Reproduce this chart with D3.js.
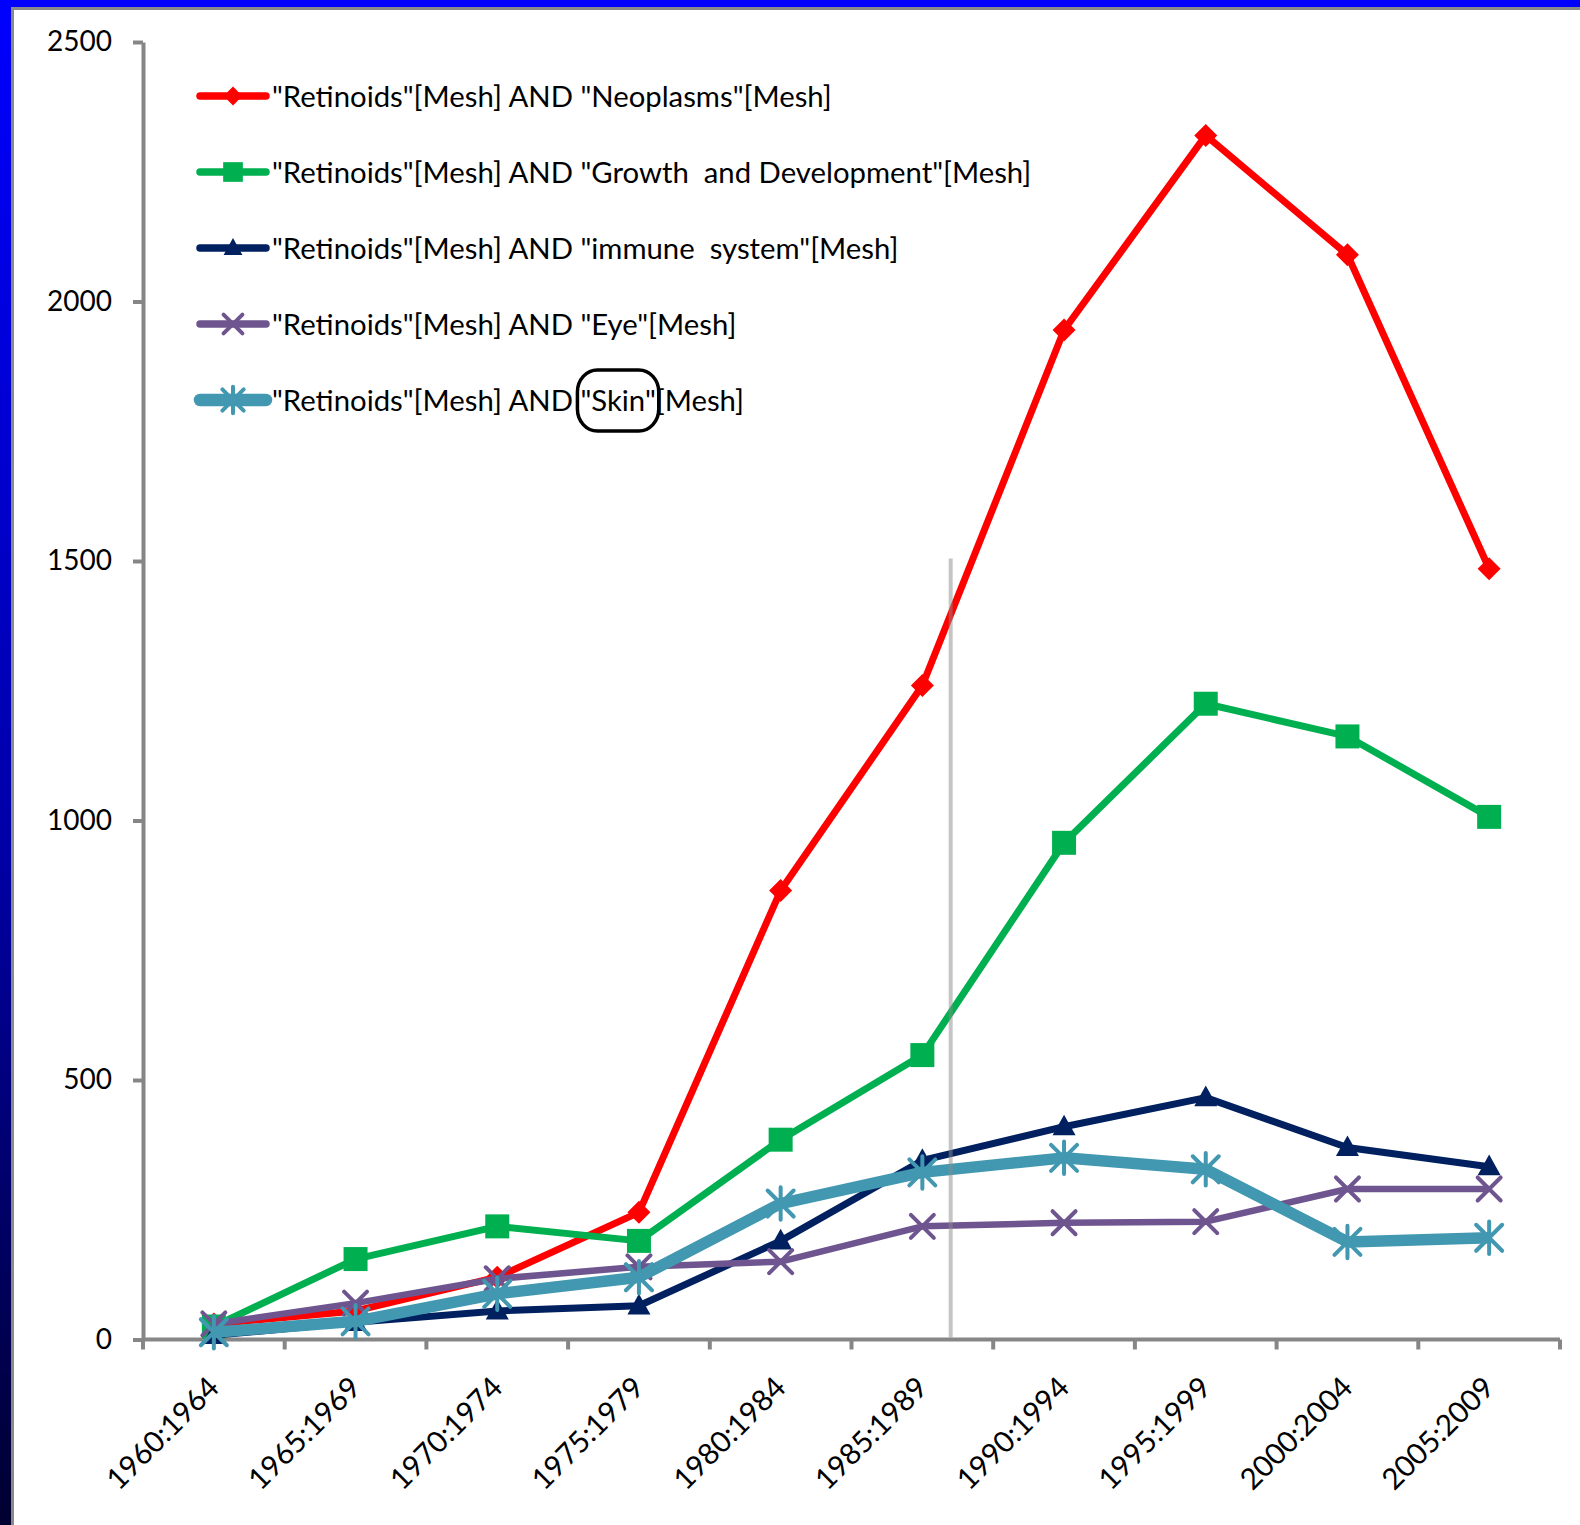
<!DOCTYPE html>
<html>
<head>
<meta charset="utf-8">
<script src="https://cdn.jsdelivr.net/npm/d3@7"></script>
<style>
  html, body { margin: 0; padding: 0; background: #fff; }
  svg { display: block; }
</style>
</head>
<body>
<script>
// Publication counts per five-year period
const categories = ["1960:1964", "1965:1969", "1970:1974", "1975:1979", "1980:1984",
                    "1985:1989", "1990:1994", "1995:1999", "2000:2004", "2005:2009"];

const neoplasms = [30, 55, 120, 245, 865, 1260, 1945, 2320, 2090, 1485];
const growth    = [25, 155, 218, 190, 385, 548, 957, 1225, 1162, 1007];
const immune    = [8, 33, 55, 65, 190, 345, 410, 466, 370, 333];
const eye       = [30, 70, 117, 140, 150, 218, 225, 227, 290, 290];
const skin      = [14, 35, 88, 120, 262, 322, 350, 328, 188, 196];

const seriesLabels = [
  '"Retinoids"[Mesh] AND "Neoplasms"[Mesh]',
  '"Retinoids"[Mesh] AND "Growth  and Development"[Mesh]',
  '"Retinoids"[Mesh] AND "immune  system"[Mesh]',
  '"Retinoids"[Mesh] AND "Eye"[Mesh]',
  '"Retinoids"[Mesh] AND "Skin"[Mesh]'
];

const yTicks = [0, 500, 1000, 1500, 2000, 2500];

// Reference year marked by a vertical rule, and the value it reaches up to
const markerYear = 1988;
const markerTop = 1505;

const W = 1580, H = 1525;
const FONT = "Lato, 'Open Sans', sans-serif";

const series = [
  { label: seriesLabels[0], values: neoplasms, color: "#ff0000", width: 7,   marker: "diamond" },
  { label: seriesLabels[1], values: growth,    color: "#00b050", width: 7,   marker: "square" },
  { label: seriesLabels[2], values: immune,    color: "#002060", width: 7,   marker: "triangle" },
  { label: seriesLabels[3], values: eye,       color: "#6f558f", width: 6.5, marker: "x" },
  { label: seriesLabels[4], values: skin,      color: "#4198b0", width: 11.5, marker: "star" }
];

const svg = d3.select("body").append("svg")
  .attr("width", W).attr("height", H)
  .attr("viewBox", `0 0 ${W} ${H}`);

// Slide frame: blue top band, left band fading to navy, thin grey inner edge
const defs = svg.append("defs");
const grad = defs.append("linearGradient").attr("id", "leftBand")
  .attr("x1", 0).attr("y1", 0).attr("x2", 0).attr("y2", 1);
grad.append("stop").attr("offset", "0%").attr("stop-color", "#0000ff");
grad.append("stop").attr("offset", "55%").attr("stop-color", "#0000a8");
grad.append("stop").attr("offset", "100%").attr("stop-color", "#000030");

svg.append("rect").attr("x", 0).attr("y", 0).attr("width", W).attr("height", H).attr("fill", "#fff");
svg.append("rect").attr("x", 0).attr("y", 0).attr("width", W).attr("height", 7).attr("fill", "#0000ff");
svg.append("rect").attr("x", 11).attr("y", 7).attr("width", W - 11).attr("height", 3).attr("fill", "#8a8a8a");
svg.append("rect").attr("x", 0).attr("y", 0).attr("width", 11).attr("height", H).attr("fill", "url(#leftBand)");
svg.append("rect").attr("x", 11).attr("y", 7).attr("width", 3).attr("height", H - 7).attr("fill", "#8a8a8a");

// Scales
const x = d3.scaleBand().domain(categories).range([143, 1560]).paddingInner(0).paddingOuter(0);
const step = x.step();
const cx = c => x(c) + step / 2;
const y = d3.scaleLinear().domain([0, 2500]).range([1339.5, 42]);

const AXIS = "#868686";
const AXIS_W = 4;

// Y axis
const yAxis = svg.append("g")
  .attr("transform", `translate(${x.range()[0]},0)`)
  .call(d3.axisLeft(y).tickValues(yTicks).tickFormat(d3.format("d"))
    .tickSize(10).tickSizeOuter(0).tickPadding(21));
yAxis.select(".domain").attr("stroke", AXIS).attr("stroke-width", AXIS_W);
yAxis.selectAll(".tick line").attr("stroke", AXIS).attr("stroke-width", AXIS_W);
yAxis.selectAll(".tick text")
  .attr("fill", "#000").attr("font-family", FONT).attr("font-size", 28);

// X axis: line with ticks at category boundaries
const xAxis = svg.append("g");
const x0 = x.range()[0], x1 = x.range()[1], yZero = y(0);
xAxis.append("line")
  .attr("x1", x0).attr("x2", x1).attr("y1", yZero).attr("y2", yZero)
  .attr("stroke", AXIS).attr("stroke-width", AXIS_W);
const bounds = categories.map(c => x(c)).concat([x1]);
xAxis.selectAll("line.tick").data(bounds).enter().append("line")
  .attr("class", "tick")
  .attr("x1", d => d).attr("x2", d => d)
  .attr("y1", yZero).attr("y2", yZero + 10)
  .attr("stroke", AXIS).attr("stroke-width", AXIS_W);
xAxis.selectAll("text").data(categories).enter().append("text")
  .attr("transform", d => `translate(${cx(d) + 7},${yZero + 50}) rotate(-45)`)
  .attr("text-anchor", "end")
  .attr("font-family", FONT).attr("font-size", 29.5).attr("fill", "#000")
  .text(d => d);

// Marker shapes
function markerPath(type, s) {
  switch (type) {
    case "diamond": return `M0,${-s}L${s},0L0,${s}L${-s},0Z`;
    case "square": return `M${-s},${-s}H${s}V${s}H${-s}Z`;
    case "triangle": return `M0,${-s * 1.05}L${s},${s * 0.75}L${-s},${s * 0.75}Z`;
    case "x": return `M${-s},${-s}L${s},${s}M${s},${-s}L${-s},${s}`;
    case "star": return `M${-s},${-s}L${s},${s}M${s},${-s}L${-s},${s}M0,${-s * 1.25}L0,${s * 1.25}`;
  }
}
const markerSize = { diamond: 11.5, square: 12, triangle: 11.5, x: 11.5, star: 13 };
const isStroked = t => t === "x" || t === "star";

const line = d3.line().x(d => cx(d.c)).y(d => y(d.v));

const plot = svg.append("g");
series.forEach(s => {
  const pts = categories.map((c, i) => ({ c, v: s.values[i] }));
  const g = plot.append("g");
  g.append("path").datum(pts)
    .attr("d", line)
    .attr("fill", "none")
    .attr("stroke", s.color)
    .attr("stroke-width", s.width)
    .attr("stroke-linejoin", "round");
  g.selectAll("path.mk").data(pts).enter().append("path")
    .attr("class", "mk")
    .attr("transform", d => `translate(${cx(d.c)},${y(d.v)})`)
    .attr("d", markerPath(s.marker, markerSize[s.marker]))
    .attr("fill", isStroked(s.marker) ? "none" : s.color)
    .attr("stroke", isStroked(s.marker) ? s.color : "none")
    .attr("stroke-width", isStroked(s.marker) ? 4 : 0)
    .attr("stroke-linecap", "round");
});

// Vertical reference rule at the marked year (band centre = middle year of the period)
const firstYear = 1960;
const yearX = yr => cx(categories[0]) + (yr - (firstYear + 2)) / 5 * step;
svg.append("line")
  .attr("x1", yearX(markerYear)).attr("x2", yearX(markerYear))
  .attr("y1", y(markerTop)).attr("y2", yZero - 2)
  .attr("stroke", "rgba(140,140,140,0.5)").attr("stroke-width", 4);

// Legend
const legend = svg.append("g");
const legX0 = 200, legX1 = 266, legTextX = 272, legY0 = 96, legDy = 76;
series.forEach((s, i) => {
  const ly = legY0 + i * legDy;
  const g = legend.append("g");
  g.append("line")
    .attr("x1", legX0).attr("x2", legX1).attr("y1", ly).attr("y2", ly)
    .attr("stroke", s.color).attr("stroke-width", s.marker === "star" ? 12.5 : 7.5)
    .attr("stroke-linecap", "round");
  g.append("path")
    .attr("transform", `translate(${(legX0 + legX1) / 2},${ly})`)
    .attr("d", markerPath(s.marker, markerSize[s.marker] * 0.82))
    .attr("fill", isStroked(s.marker) ? "none" : s.color)
    .attr("stroke", isStroked(s.marker) ? s.color : "none")
    .attr("stroke-width", isStroked(s.marker) ? 4 : 0)
    .attr("stroke-linecap", "round");
  const t = g.append("text")
    .attr("x", legTextX).attr("y", ly).attr("dy", "0.36em")
    .attr("font-family", FONT).attr("font-size", 29.3).attr("fill", "#000")
    .attr("xml:space", "preserve")
    .style("white-space", "pre")
    .text(s.label);

  // Highlight ring around "Skin"
  if (s.marker === "star") {
    const node = t.node();
    const start = s.label.indexOf('"Skin"');
    const end = start + '"Skin"'.length - 1;
    const sx = node.getStartPositionOfChar(start).x;
    const ex = node.getEndPositionOfChar(end).x;
    g.append("rect")
      .attr("x", sx - 3).attr("y", ly - 30)
      .attr("width", ex - sx + 6).attr("height", 61)
      .attr("rx", 20).attr("ry", 22)
      .attr("fill", "none").attr("stroke", "#000").attr("stroke-width", 3.5);
  }
});
</script>
</body>
</html>
